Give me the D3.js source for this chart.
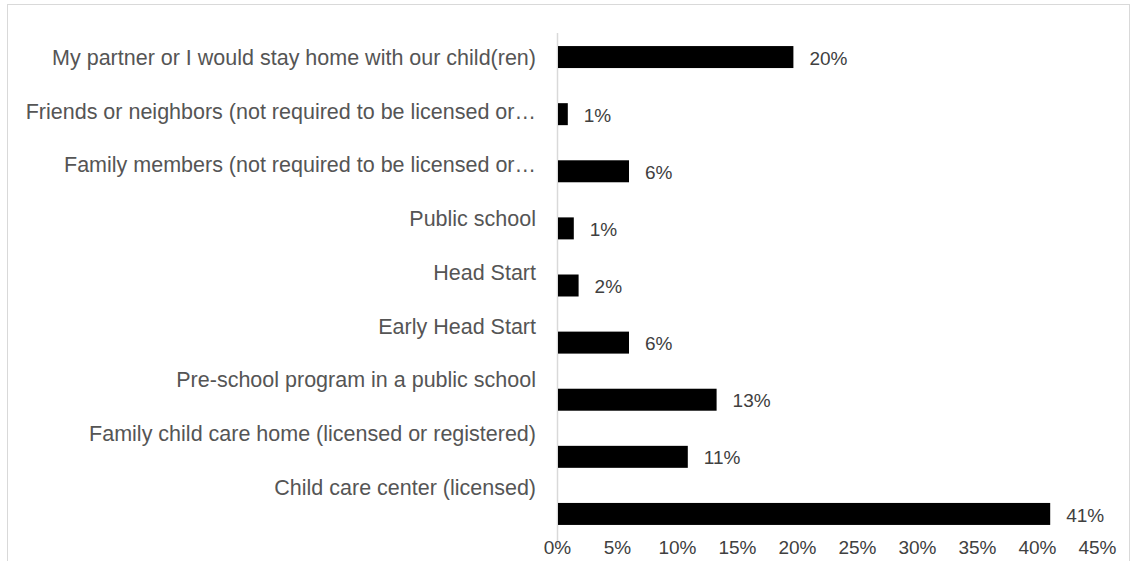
<!DOCTYPE html>
<html><head><meta charset="utf-8">
<script src="https://cdn.jsdelivr.net/npm/d3@7/dist/d3.min.js"></script>
<style>
html,body{margin:0;padding:0;background:#fff;}
svg{display:block;}
text{font-family:"Liberation Sans",Arial,sans-serif;fill:#404040;}
</style></head>
<body>
<svg id="chart" width="1137" height="561"></svg>
<script>
// Categories listed top to bottom
const categories = [
  "My partner or I would stay home with our child(ren)",
  "Friends or neighbors (not required to be licensed or\u2026",
  "Family members (not required to be licensed or\u2026",
  "Public school",
  "Head Start",
  "Early Head Start",
  "Pre-school program in a public school",
  "Family child care home (licensed or registered)",
  "Child care center (licensed)"
];
// Percent values (bar lengths)
const values = [19.7, 0.9, 6.0, 1.4, 1.8, 6.0, 13.3, 10.9, 41.1];
const xTicks = [0, 5, 10, 15, 20, 25, 30, 35, 40, 45];

const svg = d3.select("#chart");

// outer chart border
svg.append("rect").attr("x", 7.5).attr("y", 4.5).attr("width", 1122).attr("height", 570)
  .attr("fill", "none").attr("stroke", "#d9d9d9").attr("stroke-width", 1);

const x = d3.scaleLinear().domain([0, 45]).range([557, 1097]);
const yBar = d3.scaleBand().domain(categories).range([28.5, 542.5]).paddingInner(0.615).paddingOuter(0.3075);
const yText = d3.scaleBand().domain(categories).range([31, 515]);

// vertical axis line
svg.append("line").attr("x1", 557.5).attr("x2", 557.5).attr("y1", 33).attr("y2", 545)
  .attr("stroke", "#d9d9d9").attr("stroke-width", 1.5);

const fsCat = 21.5, fsVal = 19;

// bars
svg.selectAll("rect.bar").data(categories).join("rect").attr("class", "bar")
  .attr("x", x(0) + 1)
  .attr("y", d => yBar(d))
  .attr("width", (d, i) => x(values[i]) - x(0) - 1)
  .attr("height", yBar.bandwidth())
  .attr("fill", "#000");

// category labels
const yAxis = d3.axisLeft(yText).tickSize(0).tickPadding(0);
const gy = svg.append("g").attr("transform", "translate(536,0)").call(yAxis);
gy.select(".domain").remove();
gy.selectAll("text").style("font-size", fsCat + "px").style("fill", "#555555")
  .style("font-family", "'Liberation Sans', Arial, sans-serif");

// value labels
const fmt = d3.format(".0f");
svg.selectAll("text.val").data(categories).join("text").attr("class", "val")
  .attr("x", (d, i) => x(values[i]) + 16)
  .attr("y", d => yBar(d) + yBar.bandwidth() / 2 + 1)
  .attr("dy", "0.35em")
  .style("font-size", fsVal + "px")
  .style("fill", "#404040")
  .text((d, i) => fmt(values[i]) + "%");

// x axis tick labels
const xAxis = d3.axisBottom(x).tickValues(xTicks).tickSize(0).tickPadding(0).tickFormat(d => d + "%");
const gx = svg.append("g").attr("transform", "translate(0,540)").call(xAxis);
gx.select(".domain").remove();
gx.selectAll("text").style("font-size", fsVal + "px").style("fill", "#404040")
  .style("font-family", "'Liberation Sans', Arial, sans-serif");
</script>
</body></html>
